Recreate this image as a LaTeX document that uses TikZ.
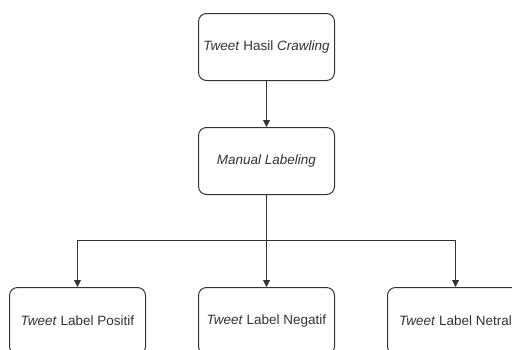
\documentclass[tikz,border=0pt]{standalone}
\usepackage{fontspec}
\setmainfont{Liberation Sans}
\usetikzlibrary{positioning,arrows.meta}

\tikzset{
  box/.style={draw=black!80, line width=1pt, rounded corners=8pt,
    minimum width=136pt, minimum height=67pt, inner sep=0pt,
    text=black!80, font=\fontsize{13.5}{16}\selectfont},
  link/.style={draw=black!80, line width=1pt, -{Triangle[length=7pt,width=7pt]}}
}

\begin{document}
\begin{tikzpicture}[x=1pt, y=1pt]
  \useasboundingbox (0,-349) rectangle (512,0);
  \clip (0,-349) rectangle (512,0);

  % Define nodes
  \node[box]                          (crawl)   at (266.5,-47) {\textit{Tweet} Hasil \textit{Crawling}};
  \node[box, below=46pt of crawl]     (manual)  {\textit{Manual Labeling}};
  \node[box, below=92pt of manual]    (negatif) {\textit{Tweet} Label Negatif};
  \node[box, left=52pt of negatif]    (positif) {\textit{Tweet} Label Positif};
  \node[box, right=52pt of negatif]   (netral)  {\textit{Tweet} Label Netral};
  \coordinate[below=45pt of manual.south] (split);

  % Connect the nodes
  \draw[link] (crawl) -- (manual);
  \draw[link] (manual.south) -- (split) -| (positif.north);
  \draw[link] (manual.south) -- (negatif.north);
  \draw[link] (manual.south) -- (split) -| (netral.north);

\end{tikzpicture}
\end{document}
